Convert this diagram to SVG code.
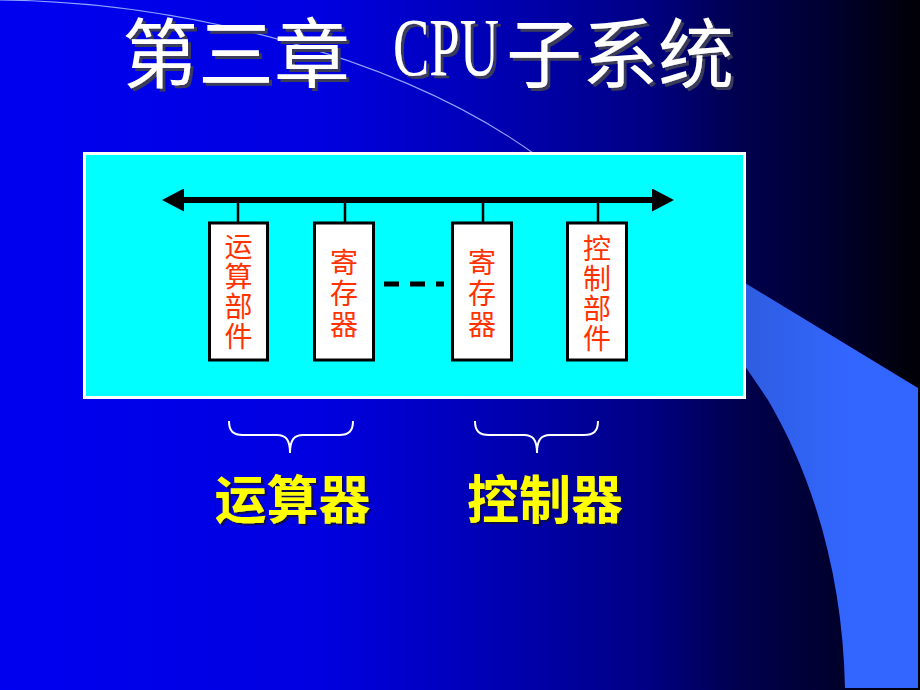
<svg xmlns="http://www.w3.org/2000/svg" width="920" height="690" viewBox="0 0 920 690">
  <defs>
    <linearGradient id="bg" x1="0" y1="0" x2="920" y2="0" gradientUnits="userSpaceOnUse">
      <stop offset="0" stop-color="#0000F0"/>
      <stop offset="0.35" stop-color="#0000E0"/>
      <stop offset="0.55" stop-color="#0000B0"/>
      <stop offset="0.7" stop-color="#000085"/>
      <stop offset="0.8" stop-color="#000050"/>
      <stop offset="0.9" stop-color="#000030"/>
      <stop offset="1" stop-color="#000005"/>
    </linearGradient>
    <linearGradient id="swoosh" x1="745" y1="0" x2="850" y2="0" gradientUnits="userSpaceOnUse">
      <stop offset="0" stop-color="#2E5DE0"/>
      <stop offset="1" stop-color="#3366FF"/>
    </linearGradient>
    <filter id="shadowTitle" filterUnits="userSpaceOnUse" x="0" y="0" width="920" height="130">
      <feDropShadow dx="3" dy="3" stdDeviation="0.6" flood-color="#3a3a5a" flood-opacity="1"/>
    </filter>
    <filter id="shadowLabel" filterUnits="userSpaceOnUse" x="150" y="450" width="560" height="100">
      <feDropShadow dx="2" dy="2" stdDeviation="0.5" flood-color="#101040" flood-opacity="0.9"/>
    </filter>
    <marker id="ah" viewBox="0 0 22 23" refX="0" refY="11.5" markerWidth="22" markerHeight="23" markerUnits="userSpaceOnUse" orient="auto-start-reverse">
      <path d="M0,0 L22,11.5 L0,23 Z" fill="#000"/>
    </marker>
    <style>
      .unit { fill: #FFFFFF; stroke: #000000; stroke-width: 3; }
      .unitText { font-family: "Noto Sans CJK SC", "Noto Sans", sans-serif; font-size: 28px; fill: #FF3300; text-anchor: middle; }
      .tap { stroke: #000; stroke-width: 2.5; }
      .brace { fill: none; stroke: #FFFFFF; stroke-width: 2; }
      .label { font-family: "Noto Sans CJK SC", sans-serif; font-size: 52px; font-weight: bold; fill: #FFFF00; text-anchor: middle; }
      .title { font-family: "Noto Sans CJK SC", sans-serif; font-size: 76px; fill: #FFFFFF; }
    </style>
  </defs>

  <!-- background -->
  <g id="background">
    <rect x="0" y="0" width="920" height="690" fill="url(#bg)"/>
    <path d="M600,195 L918,388 L918,688 L845,688 C843,580 815,480 768,400 L700,300 Z" fill="url(#swoosh)"/>
    <path d="M0,0 C180,2 400,55 540,158" fill="none" stroke="#8FA4FF" stroke-width="1.2"/>
  </g>

  <!-- title -->
  <g id="title" filter="url(#shadowTitle)">
    <text class="title" y="82"><tspan x="122">第三章</tspan><tspan x="393" y="75" font-family="'Liberation Serif', serif" font-size="82" textLength="106" lengthAdjust="spacingAndGlyphs">CPU</tspan><tspan x="506" y="82">子系统</tspan></text>
  </g>

  <!-- CPU panel -->
  <g id="panel">
    <rect x="84.5" y="153.5" width="660" height="244" fill="#00FFFF" stroke="#FFFFFF" stroke-width="3"/>
  </g>

  <!-- connectors: bus and taps -->
  <g id="connectors">
    <line x1="184" y1="200" x2="652" y2="200" stroke="#000" stroke-width="6" marker-start="url(#ah)" marker-end="url(#ah)"/>
    <line class="tap" x1="238" y1="200" x2="238" y2="223"/>
    <line class="tap" x1="345" y1="200" x2="345" y2="223"/>
    <line class="tap" x1="483" y1="200" x2="483" y2="223"/>
    <line class="tap" x1="598" y1="200" x2="598" y2="223"/>
  </g>

  <g id="alu">
    <rect class="unit" x="209.5" y="223" width="58" height="137"/>
    <text class="unitText" x="238.5"><tspan x="238.5" y="257">运</tspan><tspan x="238.5" y="287">算</tspan><tspan x="238.5" y="317">部</tspan><tspan x="238.5" y="347">件</tspan></text>
  </g>

  <g id="reg1">
    <rect class="unit" x="314.5" y="223" width="59" height="137"/>
    <text class="unitText" x="344"><tspan x="344" y="273">寄</tspan><tspan x="344" y="304">存</tspan><tspan x="344" y="335">器</tspan></text>
  </g>

  <g id="ellipsis">
    <line x1="384" y1="284" x2="444" y2="284" stroke="#000" stroke-width="5" stroke-dasharray="15 11"/>
  </g>

  <g id="reg2">
    <rect class="unit" x="452.5" y="223" width="59" height="137"/>
    <text class="unitText" x="482"><tspan x="482" y="273">寄</tspan><tspan x="482" y="304">存</tspan><tspan x="482" y="335">器</tspan></text>
  </g>

  <g id="cu">
    <rect class="unit" x="567.5" y="223" width="59" height="137"/>
    <text class="unitText" x="597"><tspan x="597" y="259">控</tspan><tspan x="597" y="289">制</tspan><tspan x="597" y="319">部</tspan><tspan x="597" y="349">件</tspan></text>
  </g>

  <!-- braces -->
  <g id="braces">
    <path class="brace" d="M229,421 C229,431 233,435 243,435 L277,435 C286,435 290,440 290,453 C290,440 294,435 303,435 L339,435 C349,435 353,431 353,421"/>
    <path class="brace" d="M475,421 C475,431 479,435 489,435 L524,435 C533,435 537,440 537,453 C537,440 541,435 550,435 L584,435 C594,435 598,431 598,421"/>
  </g>

  <g id="label-alu" filter="url(#shadowLabel)">
    <text class="label" x="292.5" y="519">运算器</text>
  </g>
  <g id="label-cu" filter="url(#shadowLabel)">
    <text class="label" x="545" y="519">控制器</text>
  </g>
</svg>
